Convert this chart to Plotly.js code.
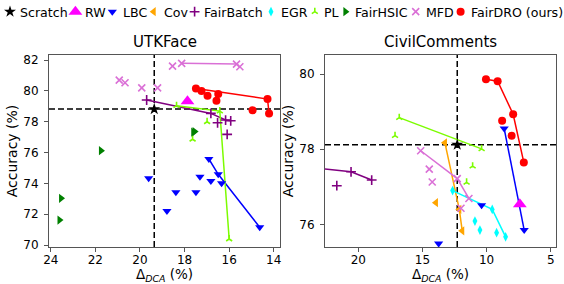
<!DOCTYPE html>
<html><head><meta charset="utf-8">
<script src="https://cdn.plot.ly/plotly-3.0.1.min.js"></script>
<style>html,body{margin:0;padding:0;background:#fff}</style>
</head><body><div id="chart" style="width:564px;height:284px"></div>
<script>
// ---------- data ----------
const methods = ['Scratch','RW','LBC','Cov','FairBatch','EGR','PL','FairHSIC','MFD','FairDRO (ours)'];

// UTKFace : x = Delta_DCA (%), y = Accuracy (%)
const utk_Scratch_x = [19.36];            const utk_Scratch_y = [78.82];
const utk_RW_x = [17.87];                 const utk_RW_y = [79.33];
const utk_LBC_x = [16.91, 16.49, 14.63, 19.61, 17.31, 16.82, 16.34, 18.39, 17.49, 18.79];
const utk_LBC_y = [75.58, 74.59, 71.15, 74.33, 74.43, 74.15, 74.00, 73.42, 73.42, 72.21];
const utk_LBC_front_x = [16.91, 16.49, 14.63];
const utk_LBC_front_y = [75.58, 74.59, 71.15];
const utk_FairBatch_x = [19.70, 16.82, 16.16, 15.93, 16.52, 16.09];
const utk_FairBatch_y = [79.41, 78.54, 78.11, 78.06, 77.93, 77.18];
const utk_FairBatch_front_x = [19.70, 16.82, 16.16, 15.93];
const utk_FairBatch_front_y = [79.41, 78.54, 78.11, 78.06];
const utk_PL_x = [18.36, 16.42, 16.99, 17.64, 16.00];
const utk_PL_y = [79.04, 78.69, 78.00, 76.86, 70.39];
const utk_PL_front_x = [18.36, 16.42, 16.00];
const utk_PL_front_y = [79.04, 78.69, 70.39];
const utk_FairHSIC_x = [17.61, 17.55, 21.75, 23.54, 23.61];
const utk_FairHSIC_y = [77.33, 77.36, 76.12, 73.03, 71.62];
const utk_MFD_x = [18.54, 18.13, 15.67, 15.52, 20.93, 20.67, 19.92, 19.21];
const utk_MFD_y = [81.61, 81.79, 81.74, 81.57, 80.70, 80.53, 80.20, 80.20];
const utk_MFD_front_x = [18.13, 15.67];
const utk_MFD_front_y = [81.79, 81.74];
const utk_FairDRO_x = [17.49, 17.24, 16.97, 16.49, 16.57, 14.28, 14.95, 14.21];
const utk_FairDRO_y = [80.16, 79.99, 79.69, 79.80, 79.36, 79.47, 78.74, 78.54];
const utk_FairDRO_front_x = [17.49, 14.28, 14.21];
const utk_FairDRO_front_y = [80.16, 79.47, 78.54];

// CivilComments
const civ_Scratch_x = [12.29];            const civ_Scratch_y = [78.12];
const civ_RW_x = [7.41];                  const civ_RW_y = [76.54];
const civ_LBC_x = [8.63, 7.07, 10.39, 13.74];
const civ_LBC_y = [78.55, 75.85, 76.51, 75.49];
const civ_LBC_front_x = [8.63, 7.07];
const civ_LBC_front_y = [78.55, 75.85];
const civ_Cov_x = [13.25, 12.13, 11.90, 13.95];
const civ_Cov_y = [78.17, 76.40, 75.83, 76.58];
const civ_Cov_front_x = [13.25, 12.13, 11.90];
const civ_Cov_front_y = [78.17, 76.40, 75.83];
const civ_FairBatch_x = [23.60, 20.57, 18.96, 21.68];
const civ_FairBatch_y = [77.51, 77.40, 77.18, 77.03];
const civ_FairBatch_front_x = [23.60, 20.57, 18.96];
const civ_FairBatch_front_y = [77.51, 77.40, 77.18];
const civ_EGR_x = [12.65, 9.56, 8.52, 10.91, 10.52, 9.22];
const civ_EGR_y = [76.90, 76.40, 75.67, 76.09, 75.85, 75.78];
const civ_EGR_front_x = [12.65, 9.56, 8.52];
const civ_EGR_front_y = [76.90, 76.40, 75.67];
const civ_PL_x = [16.81, 10.39, 17.14, 11.09, 11.56];
const civ_PL_y = [78.84, 78.01, 78.36, 77.55, 77.12];
const civ_PL_front_x = [16.81, 10.39];
const civ_PL_front_y = [78.84, 78.01];
const civ_MFD_x = [15.14, 12.29, 11.38, 14.47, 14.24, 12.00];
const civ_MFD_y = [77.96, 77.22, 76.69, 77.47, 77.13, 76.43];
const civ_MFD_front_x = [15.14, 12.29, 11.38];
const civ_MFD_front_y = [77.96, 77.22, 76.69];
const civ_FairDRO_x = [10.05, 9.14, 7.93, 7.10, 8.79, 8.05];
const civ_FairDRO_y = [79.86, 79.81, 78.93, 77.65, 78.76, 78.36];
const civ_FairDRO_front_x = [10.05, 9.14, 7.93, 7.10];
const civ_FairDRO_front_y = [79.86, 79.81, 78.93, 77.65];

const utkTicks = [24, 22, 20, 18, 16, 14];
const utkYTicks = [70, 72, 74, 76, 78, 80, 82];
const civTicks = [20, 15, 10, 5];
const civYTicks = [76, 78, 80];

// ---------- styles ----------
const S = {
  'Scratch':        {symbol:'star',           size:9,  color:'#000000'},
  'RW':             {symbol:'triangle-up',    size:12, color:'#ff00ff'},
  'LBC':            {symbol:'triangle-down',  size:8,  color:'#0000ff'},
  'Cov':            {symbol:'triangle-left',  size:8,  color:'#ffa500'},
  'FairBatch':      {symbol:'cross-thin',     size:7,  color:'#800080', thin:true},
  'EGR':            {symbol:'diamond-tall',   size:7,  color:'#00ffff'},
  'PL':             {symbol:'y-up',           size:5,  color:'#7cfc00', thin:true},
  'FairHSIC':       {symbol:'triangle-right', size:8,  color:'#008000'},
  'MFD':            {symbol:'x-thin',         size:7,  color:'#da70d6', thin:true},
  'FairDRO (ours)': {symbol:'circle',         size:8,  color:'#ff0000'}
};
const keyOf = m => m === 'FairDRO (ours)' ? 'FairDRO' : m;

const datasets = [
  {tag:'utk', xa:'x',  ya:'y'},
  {tag:'civ', xa:'x2', ya:'y2'}
];
const scope = {
  utk_Scratch_x, utk_Scratch_y, utk_RW_x, utk_RW_y, utk_LBC_x, utk_LBC_y, utk_LBC_front_x, utk_LBC_front_y,
  utk_FairBatch_x, utk_FairBatch_y, utk_FairBatch_front_x, utk_FairBatch_front_y, utk_PL_x, utk_PL_y,
  utk_PL_front_x, utk_PL_front_y, utk_FairHSIC_x, utk_FairHSIC_y, utk_MFD_x, utk_MFD_y, utk_MFD_front_x,
  utk_MFD_front_y, utk_FairDRO_x, utk_FairDRO_y, utk_FairDRO_front_x, utk_FairDRO_front_y,
  civ_Scratch_x, civ_Scratch_y, civ_RW_x, civ_RW_y, civ_LBC_x, civ_LBC_y, civ_LBC_front_x, civ_LBC_front_y,
  civ_Cov_x, civ_Cov_y, civ_Cov_front_x, civ_Cov_front_y, civ_FairBatch_x, civ_FairBatch_y,
  civ_FairBatch_front_x, civ_FairBatch_front_y, civ_EGR_x, civ_EGR_y, civ_EGR_front_x, civ_EGR_front_y,
  civ_PL_x, civ_PL_y, civ_PL_front_x, civ_PL_front_y, civ_MFD_x, civ_MFD_y, civ_MFD_front_x, civ_MFD_front_y,
  civ_FairDRO_x, civ_FairDRO_y, civ_FairDRO_front_x, civ_FairDRO_front_y
};

// ---------- traces ----------
const lineTraces = [], markerTraces = [];
const shown = {};
methods.forEach((m, i) => {
  const k = keyOf(m), st = S[m];
  const legendId = i === 0 ? 'legend' : 'legend' + (i + 1);
  datasets.forEach(ds => {
    const px = scope[ds.tag + '_' + k + '_x'];
    if (!px) return;
    const py = scope[ds.tag + '_' + k + '_y'];
    const fx = scope[ds.tag + '_' + k + '_front_x'];
    const fy = scope[ds.tag + '_' + k + '_front_y'];
    if (fx) {
      lineTraces.push({type:'scatter', mode:'lines', x:fx, y:fy, xaxis:ds.xa, yaxis:ds.ya,
        line:{color:st.color, width:1.5}, showlegend:false, hoverinfo:'skip'});
    }
    const marker = {symbol:st.symbol, size:st.size, color:st.color,
      line: st.thin ? {color:st.color, width:1.6} : {width:0}};
    const showL = !shown[m];
    shown[m] = true;
    markerTraces.push({type:'scatter', mode:'markers', name:'', x:px, y:py, xaxis:ds.xa, yaxis:ds.ya,
      marker, showlegend:showL, legend:legendId, hovertemplate: m + ': %{x}, %{y}<extra></extra>'});
  });
});

// ---------- layout ----------
const W = 564, H = 284;
const mT = 55, mB = 37;
const plotH = H - mT - mB;
const FONT = 'DejaVu Sans, Arial, sans-serif';
const legendSymX = [10, 75.4, 112.3, 153.7, 194.6, 271, 314.8, 345.4, 415.7, 460.6];
const legendTextX = [18, 83.3, 121.4, 161.6, 202, 279, 322, 353, 423.6, 468.5];
const legendY = 12;

const axBase = {
  showline:true, mirror:true, linecolor:'#555', linewidth:1,
  ticks:'outside', ticklen:4, tickwidth:1, tickcolor:'#555',
  showgrid:false, zeroline:false, tickfont:{size:12, color:'#000'},
  fixedrange:true
};
const L1 = 49, R1 = 280, L2 = 325, R2 = 556;
const xTitle = {text:'Δ<sub><i>DCA</i></sub> (%)', font:{size:13.5}, standoff:4};
const layout = {
  width:W, height:H,
  margin:{l:0, r:0, t:mT, b:mB, pad:0, autoexpand:false},
  paper_bgcolor:'#fff', plot_bgcolor:'#fff',
  font:{family:FONT, color:'#000', size:12},
  showlegend:true,
  xaxis: Object.assign({}, axBase, {domain:[L1/W, R1/W], range:[24.08, 13.72], anchor:'y',
     tickmode:'array', tickvals:utkTicks, ticktext:utkTicks.map(String), ticklabelstandoff:-2,
     automargin:true, title:xTitle}),
  yaxis: Object.assign({}, axBase, {domain:[0,1], range:[69.87, 82.33], anchor:'x',
     tickmode:'array', tickvals:utkYTicks, ticktext:utkYTicks.map(String), ticklabelstandoff:3,
     title:{text:'Accuracy (%)', font:{size:14}, standoff:2}}),
  xaxis2: Object.assign({}, axBase, {domain:[L2/W, R2/W], range:[22.6, 4.59], anchor:'y2',
     tickmode:'array', tickvals:civTicks, ticktext:civTicks.map(String), ticklabelstandoff:-2,
     automargin:true, title:xTitle}),
  yaxis2: Object.assign({}, axBase, {domain:[0,1], range:[75.40, 80.506], anchor:'x2',
     tickmode:'array', tickvals:civYTicks, ticktext:civYTicks.map(String), ticklabelstandoff:3,
     title:{text:'Accuracy (%)', font:{size:14}, standoff:2}}),
  shapes: [
    {type:'line', xref:'x', yref:'y domain', x0:utk_Scratch_x[0], x1:utk_Scratch_x[0], y0:0, y1:1,
      line:{color:'#000', width:1.5, dash:'6px,3px'}, layer:'below'},
    {type:'line', xref:'x domain', yref:'y', x0:0, x1:1, y0:utk_Scratch_y[0], y1:utk_Scratch_y[0],
      line:{color:'#000', width:1.5, dash:'6px,3px'}, layer:'below'},
    {type:'line', xref:'x2', yref:'y2 domain', x0:civ_Scratch_x[0], x1:civ_Scratch_x[0], y0:0, y1:1,
      line:{color:'#000', width:1.5, dash:'6px,3px'}, layer:'below'},
    {type:'line', xref:'x2 domain', yref:'y2', x0:0, x1:1, y0:civ_Scratch_y[0], y1:civ_Scratch_y[0],
      line:{color:'#000', width:1.5, dash:'6px,3px'}, layer:'below'}
  ],
  annotations: [
    {text:'UTKFace', xref:'paper', yref:'paper', x:(L1+R1)/2/W, y:(H-mB-42)/plotH,
      xanchor:'center', yanchor:'middle', showarrow:false, font:{size:15}},
    {text:'CivilComments', xref:'paper', yref:'paper', x:(L2+R2)/2/W, y:(H-mB-42)/plotH,
      xanchor:'center', yanchor:'middle', showarrow:false, font:{size:15}}
  ]
};
// one symbol-only legend per method (symbol sits 20px right of the legend's left edge),
// with the method name as text next to it
methods.forEach((m, i) => {
  const id = i === 0 ? 'legend' : 'legend' + (i + 1);
  const left = legendSymX[i] - 20;
  layout[id] = {xref:'container', yref:'container', x:Math.max(left, 0) / W, y:1 - legendY / H,
    xanchor:'left', yanchor:'middle', orientation:'h', bgcolor:'rgba(0,0,0,0)', borderwidth:0,
    itemwidth:30, indentation:Math.min(left, 0), font:{size:12.6}};
  layout.annotations.push({text:m, xref:'paper', yref:'paper', x:legendTextX[i] / W,
    y:(H - mB - legendY) / plotH, xanchor:'left', yanchor:'middle', showarrow:false,
    font:{size:12.6}});
});

Plotly.newPlot('chart', lineTraces.concat(markerTraces), layout, {displayModeBar:false, staticPlot:true});
</script></body></html>
